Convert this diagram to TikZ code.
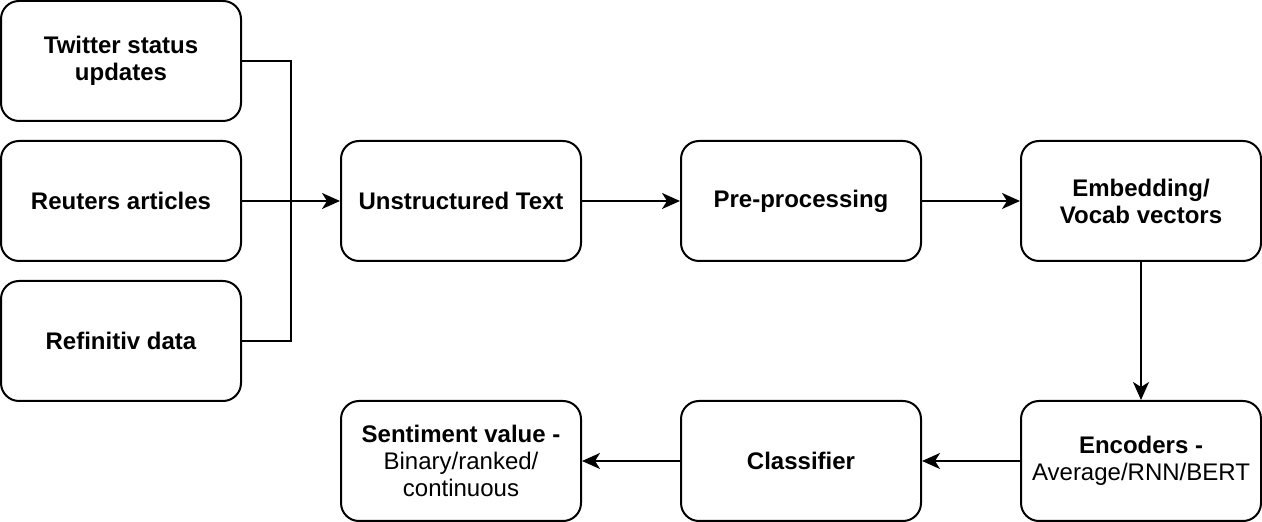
\documentclass[tikz,border=0pt]{standalone}
\usepackage{fontspec}
\setmainfont{Liberation Sans}
\usetikzlibrary{arrows.meta}
\tikzset{
  box/.style={draw,line width=1pt,rounded corners=9pt,minimum width=120pt,minimum height=60pt,align=center,font=\fontsize{12}{13.5}\selectfont\bfseries},
  link/.style={line width=1pt,-{Stealth[length=9pt,width=8pt,inset=2.5pt]}}
}
\begin{document}
\begin{tikzpicture}[x=0.5pt,y=-0.5pt]
\useasboundingbox (0,0) rectangle (1262,522);
\node[box] (twitter) at (121,61) {Twitter status\\updates};
\node[box] (reuters) at (121,201) {Reuters articles};
\node[box] (refinitiv) at (121,341) {Refinitiv data};
\node[box] (text) at (461,201) {Unstructured Text};
\node[box] (pre) at (801,201) {Pre-processing};
\node[box] (embed) at (1141,201) {Embedding/\\Vocab vectors};
\node[box] (enc) at (1141,461) {Encoders -\\\mdseries Average/RNN/BERT};
\node[box] (clf) at (801,461) {Classifier};
\node[box] (sent) at (461,461) {Sentiment value -\\\mdseries Binary/ranked/\\\mdseries continuous};
\coordinate (join) at (291,201);
\draw[line width=1pt] (twitter.east) -| (join);
\draw[line width=1pt] (refinitiv.east) -| (join);
\draw[link] (reuters) -- (text);
\draw[link] (text) -- (pre);
\draw[link] (pre) -- (embed);
\draw[link] (embed) -- (enc);
\draw[link] (enc) -- (clf);
\draw[link] (clf) -- (sent);
\end{tikzpicture}
\end{document}
